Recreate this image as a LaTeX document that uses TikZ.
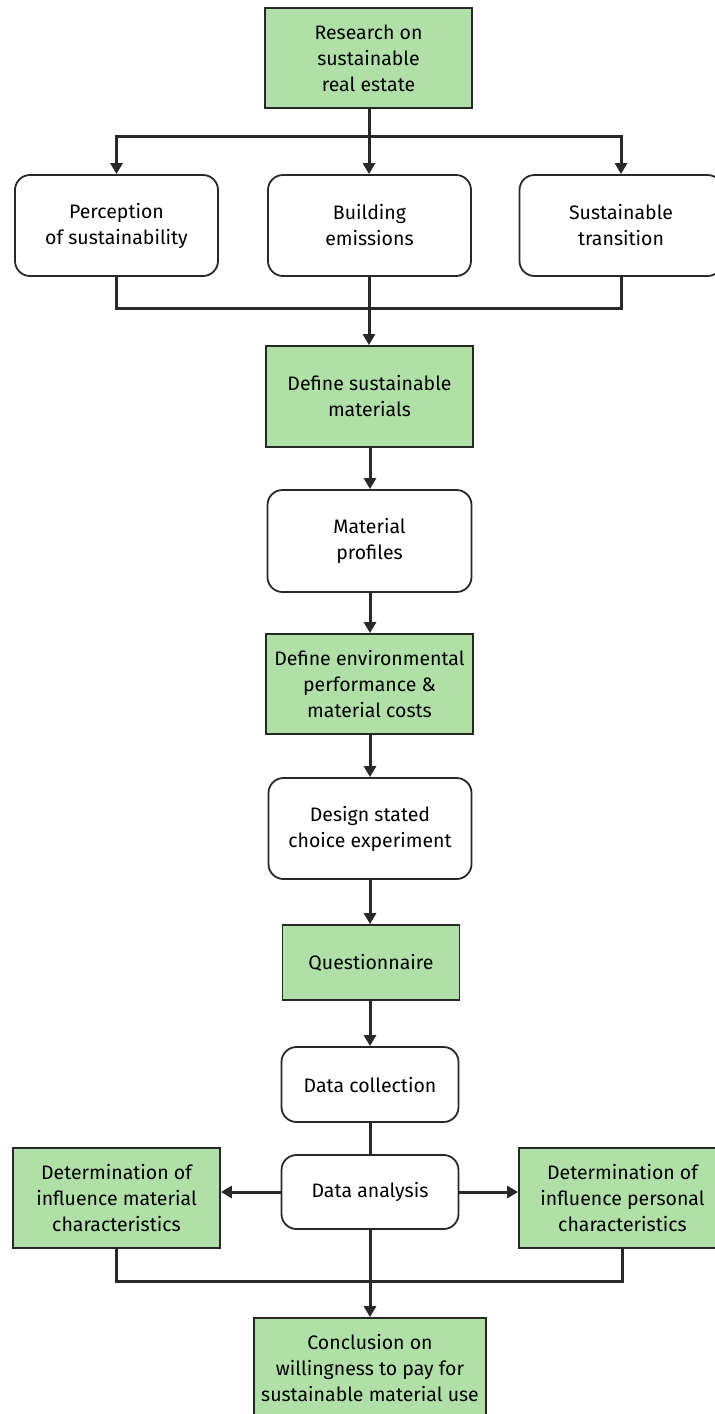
\documentclass[tikz,border=0pt]{standalone}
\usepackage{fontspec}
\setmainfont{Fira Sans}
\usetikzlibrary{arrows.meta}
\definecolor{boxgreen}{RGB}{176,224,168}
\definecolor{edge}{RGB}{40,40,40}
\tikzset{
  base/.style={draw=edge, line width=1.8pt, align=center, inner sep=0pt,
    font=\fontsize{19.5}{26}\selectfont, text=black},
  greenbox/.style={base, rectangle, fill=boxgreen},
  roundbox/.style={base, rectangle, rounded corners=15pt, fill=white},
  conn/.style={draw=edge, line width=3pt},
  arr/.style={conn, -{Triangle[length=11pt,width=12pt]}}
}
\begin{document}
\begin{tikzpicture}[x=1pt,y=-1pt]
\useasboundingbox (0,0) rectangle (715,1414);
\node[greenbox, minimum width=207pt, minimum height=100pt] (top) at (368.5,58) {Research on\\sustainable\\real estate};
\node[roundbox, minimum width=203pt, minimum height=101pt] (perc) at (116.5,225.5) {Perception\\of sustainability};
\node[roundbox, minimum width=203pt, minimum height=101pt] (build) at (369.5,225.5) {Building\\emissions};
\node[roundbox, minimum width=203pt, minimum height=101pt] (trans) at (621,225.5) {Sustainable\\transition};
\node[greenbox, minimum width=207pt, minimum height=101pt] (defm) at (369.5,396.5) {Define sustainable\\materials};
\node[roundbox, minimum width=204pt, minimum height=102pt] (prof) at (369.5,541) {Material\\profiles};
\node[greenbox, minimum width=207pt, minimum height=100pt] (defe) at (369.5,684) {Define environmental\\performance \&\\material costs};
\node[roundbox, minimum width=203pt, minimum height=101pt] (design) at (370,828.5) {Design stated\\choice experiment};
\node[greenbox, minimum width=177pt, minimum height=75pt] (quest) at (371,962.5) {Questionnaire};
\node[roundbox, minimum width=177pt, minimum height=75pt] (coll) at (370,1084.5) {Data collection};
\node[roundbox, minimum width=177pt, minimum height=74pt] (anal) at (370,1192) {Data analysis};
\node[greenbox, minimum width=207pt, minimum height=100pt] (infm) at (116.5,1198) {Determination of\\influence material\\characteristics};
\node[greenbox, minimum width=207pt, minimum height=100pt] (infp) at (622.5,1198) {Determination of\\influence personal\\characteristics};
\node[greenbox, minimum width=232pt, minimum height=100pt] (concl) at (370,1368) {Conclusion on\\willingness to pay for\\sustainable material use};
% top branching
\coordinate (j1) at (369,136);
\draw[conn] (top.south -| j1) -- (j1);
\draw[arr] (j1) -| (perc.north);
\draw[arr] (j1) -| (trans.north);
\draw[arr] (j1) -- (build.north -| j1);
% merge
\coordinate (j2) at (369,308);
\draw[conn] (perc.south) |- (j2) -| (trans.south);
\draw[arr] (build.south -| j2) -- (defm.north -| j2);
\draw[arr] (defm.south -| 370,0) -- (prof.north -| 370,0);
\draw[arr] (prof.south -| 370,0) -- (defe.north -| 370,0);
\draw[arr] (defe.south -| 370,0) -- (design.north -| 370,0);
\draw[arr] (design.south -| 370,0) -- (quest.north -| 370,0);
\draw[arr] (quest.south -| 370,0) -- (coll.north -| 370,0);
\draw[conn] (coll.south) -- (anal.north);
\draw[arr] (anal.west) -- (infm.east |- anal.west);
\draw[arr] (anal.east) -- (infp.west |- anal.east);
\coordinate (j3) at (370,1281);
\draw[conn] (infm.south) |- (j3) -| (infp.south);
\draw[arr] (anal.south) -- (concl.north);
\end{tikzpicture}
\end{document}
